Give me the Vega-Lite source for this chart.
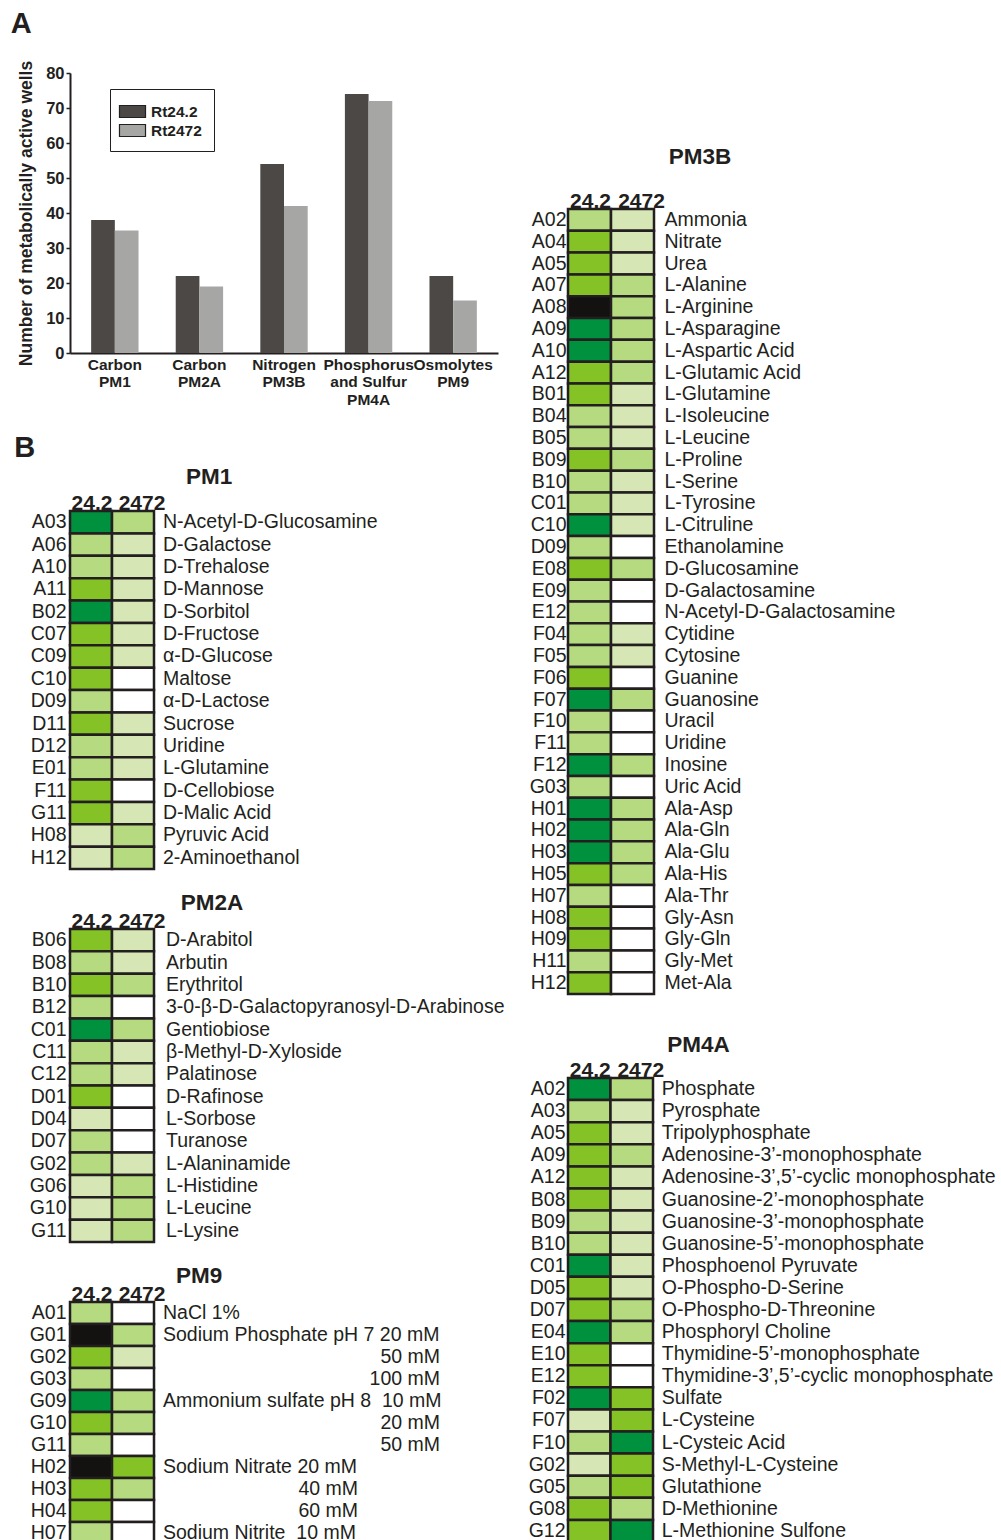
{
  "$schema": "https://vega.github.io/schema/vega-lite/v6.json",
  "background": "white",
  "padding": {"left": 10, "top": 10, "right": 0, "bottom": 0},
  "config": {
    "font": "Liberation Sans",
    "view": {"stroke": null},
    "axis": {"labelColor": "#231f20", "titleColor": "#231f20", "domainColor": "#231f20", "tickColor": "#231f20", "grid": false},
    "title": {"color": "#231f20"},
    "text": {"color": "#231f20"}
  },
  "datasets": {
    "bars": [
      {"medium": "Carbon|PM1", "strain": "Rt24.2", "wells": 38},
      {"medium": "Carbon|PM1", "strain": "Rt2472", "wells": 35},
      {"medium": "Carbon|PM2A", "strain": "Rt24.2", "wells": 22},
      {"medium": "Carbon|PM2A", "strain": "Rt2472", "wells": 19},
      {"medium": "Nitrogen|PM3B", "strain": "Rt24.2", "wells": 54},
      {"medium": "Nitrogen|PM3B", "strain": "Rt2472", "wells": 42},
      {"medium": "Phosphorus|and Sulfur|PM4A", "strain": "Rt24.2", "wells": 74},
      {"medium": "Phosphorus|and Sulfur|PM4A", "strain": "Rt2472", "wells": 72},
      {"medium": "Osmolytes|PM9", "strain": "Rt24.2", "wells": 22},
      {"medium": "Osmolytes|PM9", "strain": "Rt2472", "wells": 15}
    ],
    "wells": [
      {"plate": "PM1", "well": "A03", "name": "N-Acetyl-D-Glucosamine"},
      {"plate": "PM1", "well": "A06", "name": "D-Galactose"},
      {"plate": "PM1", "well": "A10", "name": "D-Trehalose"},
      {"plate": "PM1", "well": "A11", "name": "D-Mannose"},
      {"plate": "PM1", "well": "B02", "name": "D-Sorbitol"},
      {"plate": "PM1", "well": "C07", "name": "D-Fructose"},
      {"plate": "PM1", "well": "C09", "name": "α-D-Glucose"},
      {"plate": "PM1", "well": "C10", "name": "Maltose"},
      {"plate": "PM1", "well": "D09", "name": "α-D-Lactose"},
      {"plate": "PM1", "well": "D11", "name": "Sucrose"},
      {"plate": "PM1", "well": "D12", "name": "Uridine"},
      {"plate": "PM1", "well": "E01", "name": "L-Glutamine"},
      {"plate": "PM1", "well": "F11", "name": "D-Cellobiose"},
      {"plate": "PM1", "well": "G11", "name": "D-Malic Acid"},
      {"plate": "PM1", "well": "H08", "name": "Pyruvic Acid"},
      {"plate": "PM1", "well": "H12", "name": "2-Aminoethanol"},
      {"plate": "PM2A", "well": "B06", "name": "D-Arabitol"},
      {"plate": "PM2A", "well": "B08", "name": "Arbutin"},
      {"plate": "PM2A", "well": "B10", "name": "Erythritol"},
      {"plate": "PM2A", "well": "B12", "name": "3-0-β-D-Galactopyranosyl-D-Arabinose"},
      {"plate": "PM2A", "well": "C01", "name": "Gentiobiose"},
      {"plate": "PM2A", "well": "C11", "name": "β-Methyl-D-Xyloside"},
      {"plate": "PM2A", "well": "C12", "name": "Palatinose"},
      {"plate": "PM2A", "well": "D01", "name": "D-Rafinose"},
      {"plate": "PM2A", "well": "D04", "name": "L-Sorbose"},
      {"plate": "PM2A", "well": "D07", "name": "Turanose"},
      {"plate": "PM2A", "well": "G02", "name": "L-Alaninamide"},
      {"plate": "PM2A", "well": "G06", "name": "L-Histidine"},
      {"plate": "PM2A", "well": "G10", "name": "L-Leucine"},
      {"plate": "PM2A", "well": "G11", "name": "L-Lysine"},
      {"plate": "PM9", "well": "A01", "name": "NaCl 1%"},
      {"plate": "PM9", "well": "G01", "name": "Sodium Phosphate pH 7 20 mM"},
      {"plate": "PM9", "well": "G02", "name": "50 mM"},
      {"plate": "PM9", "well": "G03", "name": "100 mM"},
      {"plate": "PM9", "well": "G09", "name": "Ammonium sulfate pH 8\u00a0 10 mM"},
      {"plate": "PM9", "well": "G10", "name": "20 mM"},
      {"plate": "PM9", "well": "G11", "name": "50 mM"},
      {"plate": "PM9", "well": "H02", "name": "Sodium Nitrate 20 mM"},
      {"plate": "PM9", "well": "H03", "name": "40 mM"},
      {"plate": "PM9", "well": "H04", "name": "60 mM"},
      {"plate": "PM9", "well": "H07", "name": "Sodium Nitrite\u00a0 10 mM"},
      {"plate": "PM3B", "well": "A02", "name": "Ammonia"},
      {"plate": "PM3B", "well": "A04", "name": "Nitrate"},
      {"plate": "PM3B", "well": "A05", "name": "Urea"},
      {"plate": "PM3B", "well": "A07", "name": "L-Alanine"},
      {"plate": "PM3B", "well": "A08", "name": "L-Arginine"},
      {"plate": "PM3B", "well": "A09", "name": "L-Asparagine"},
      {"plate": "PM3B", "well": "A10", "name": "L-Aspartic Acid"},
      {"plate": "PM3B", "well": "A12", "name": "L-Glutamic Acid"},
      {"plate": "PM3B", "well": "B01", "name": "L-Glutamine"},
      {"plate": "PM3B", "well": "B04", "name": "L-Isoleucine"},
      {"plate": "PM3B", "well": "B05", "name": "L-Leucine"},
      {"plate": "PM3B", "well": "B09", "name": "L-Proline"},
      {"plate": "PM3B", "well": "B10", "name": "L-Serine"},
      {"plate": "PM3B", "well": "C01", "name": "L-Tyrosine"},
      {"plate": "PM3B", "well": "C10", "name": "L-Citruline"},
      {"plate": "PM3B", "well": "D09", "name": "Ethanolamine"},
      {"plate": "PM3B", "well": "E08", "name": "D-Glucosamine"},
      {"plate": "PM3B", "well": "E09", "name": "D-Galactosamine"},
      {"plate": "PM3B", "well": "E12", "name": "N-Acetyl-D-Galactosamine"},
      {"plate": "PM3B", "well": "F04", "name": "Cytidine"},
      {"plate": "PM3B", "well": "F05", "name": "Cytosine"},
      {"plate": "PM3B", "well": "F06", "name": "Guanine"},
      {"plate": "PM3B", "well": "F07", "name": "Guanosine"},
      {"plate": "PM3B", "well": "F10", "name": "Uracil"},
      {"plate": "PM3B", "well": "F11", "name": "Uridine"},
      {"plate": "PM3B", "well": "F12", "name": "Inosine"},
      {"plate": "PM3B", "well": "G03", "name": "Uric Acid"},
      {"plate": "PM3B", "well": "H01", "name": "Ala-Asp"},
      {"plate": "PM3B", "well": "H02", "name": "Ala-Gln"},
      {"plate": "PM3B", "well": "H03", "name": "Ala-Glu"},
      {"plate": "PM3B", "well": "H05", "name": "Ala-His"},
      {"plate": "PM3B", "well": "H07", "name": "Ala-Thr"},
      {"plate": "PM3B", "well": "H08", "name": "Gly-Asn"},
      {"plate": "PM3B", "well": "H09", "name": "Gly-Gln"},
      {"plate": "PM3B", "well": "H11", "name": "Gly-Met"},
      {"plate": "PM3B", "well": "H12", "name": "Met-Ala"},
      {"plate": "PM4A", "well": "A02", "name": "Phosphate"},
      {"plate": "PM4A", "well": "A03", "name": "Pyrosphate"},
      {"plate": "PM4A", "well": "A05", "name": "Tripolyphosphate"},
      {"plate": "PM4A", "well": "A09", "name": "Adenosine-3’-monophosphate"},
      {"plate": "PM4A", "well": "A12", "name": "Adenosine-3’,5’-cyclic monophosphate"},
      {"plate": "PM4A", "well": "B08", "name": "Guanosine-2’-monophosphate"},
      {"plate": "PM4A", "well": "B09", "name": "Guanosine-3’-monophosphate"},
      {"plate": "PM4A", "well": "B10", "name": "Guanosine-5’-monophosphate"},
      {"plate": "PM4A", "well": "C01", "name": "Phosphoenol Pyruvate"},
      {"plate": "PM4A", "well": "D05", "name": "O-Phospho-D-Serine"},
      {"plate": "PM4A", "well": "D07", "name": "O-Phospho-D-Threonine"},
      {"plate": "PM4A", "well": "E04", "name": "Phosphoryl Choline"},
      {"plate": "PM4A", "well": "E10", "name": "Thymidine-5’-monophosphate"},
      {"plate": "PM4A", "well": "E12", "name": "Thymidine-3’,5’-cyclic monophosphate"},
      {"plate": "PM4A", "well": "F02", "name": "Sulfate"},
      {"plate": "PM4A", "well": "F07", "name": "L-Cysteine"},
      {"plate": "PM4A", "well": "F10", "name": "L-Cysteic Acid"},
      {"plate": "PM4A", "well": "G02", "name": "S-Methyl-L-Cysteine"},
      {"plate": "PM4A", "well": "G05", "name": "Glutathione"},
      {"plate": "PM4A", "well": "G08", "name": "D-Methionine"},
      {"plate": "PM4A", "well": "G12", "name": "L-Methionine Sulfone"}
    ],
    "cells": [
      {"plate": "PM1", "well": "A03", "strain": "24.2", "level": 4}, {"plate": "PM1", "well": "A03", "strain": "2472", "level": 2},
      {"plate": "PM1", "well": "A06", "strain": "24.2", "level": 2}, {"plate": "PM1", "well": "A06", "strain": "2472", "level": 1},
      {"plate": "PM1", "well": "A10", "strain": "24.2", "level": 2}, {"plate": "PM1", "well": "A10", "strain": "2472", "level": 1},
      {"plate": "PM1", "well": "A11", "strain": "24.2", "level": 3}, {"plate": "PM1", "well": "A11", "strain": "2472", "level": 1},
      {"plate": "PM1", "well": "B02", "strain": "24.2", "level": 4}, {"plate": "PM1", "well": "B02", "strain": "2472", "level": 1},
      {"plate": "PM1", "well": "C07", "strain": "24.2", "level": 3}, {"plate": "PM1", "well": "C07", "strain": "2472", "level": 1},
      {"plate": "PM1", "well": "C09", "strain": "24.2", "level": 3}, {"plate": "PM1", "well": "C09", "strain": "2472", "level": 1},
      {"plate": "PM1", "well": "C10", "strain": "24.2", "level": 3}, {"plate": "PM1", "well": "C10", "strain": "2472", "level": 0},
      {"plate": "PM1", "well": "D09", "strain": "24.2", "level": 2}, {"plate": "PM1", "well": "D09", "strain": "2472", "level": 0},
      {"plate": "PM1", "well": "D11", "strain": "24.2", "level": 3}, {"plate": "PM1", "well": "D11", "strain": "2472", "level": 1},
      {"plate": "PM1", "well": "D12", "strain": "24.2", "level": 2}, {"plate": "PM1", "well": "D12", "strain": "2472", "level": 1},
      {"plate": "PM1", "well": "E01", "strain": "24.2", "level": 2}, {"plate": "PM1", "well": "E01", "strain": "2472", "level": 1},
      {"plate": "PM1", "well": "F11", "strain": "24.2", "level": 3}, {"plate": "PM1", "well": "F11", "strain": "2472", "level": 0},
      {"plate": "PM1", "well": "G11", "strain": "24.2", "level": 3}, {"plate": "PM1", "well": "G11", "strain": "2472", "level": 1},
      {"plate": "PM1", "well": "H08", "strain": "24.2", "level": 1}, {"plate": "PM1", "well": "H08", "strain": "2472", "level": 2},
      {"plate": "PM1", "well": "H12", "strain": "24.2", "level": 1}, {"plate": "PM1", "well": "H12", "strain": "2472", "level": 2},
      {"plate": "PM2A", "well": "B06", "strain": "24.2", "level": 3}, {"plate": "PM2A", "well": "B06", "strain": "2472", "level": 1},
      {"plate": "PM2A", "well": "B08", "strain": "24.2", "level": 2}, {"plate": "PM2A", "well": "B08", "strain": "2472", "level": 1},
      {"plate": "PM2A", "well": "B10", "strain": "24.2", "level": 3}, {"plate": "PM2A", "well": "B10", "strain": "2472", "level": 2},
      {"plate": "PM2A", "well": "B12", "strain": "24.2", "level": 2}, {"plate": "PM2A", "well": "B12", "strain": "2472", "level": 0},
      {"plate": "PM2A", "well": "C01", "strain": "24.2", "level": 4}, {"plate": "PM2A", "well": "C01", "strain": "2472", "level": 2},
      {"plate": "PM2A", "well": "C11", "strain": "24.2", "level": 2}, {"plate": "PM2A", "well": "C11", "strain": "2472", "level": 1},
      {"plate": "PM2A", "well": "C12", "strain": "24.2", "level": 2}, {"plate": "PM2A", "well": "C12", "strain": "2472", "level": 1},
      {"plate": "PM2A", "well": "D01", "strain": "24.2", "level": 3}, {"plate": "PM2A", "well": "D01", "strain": "2472", "level": 0},
      {"plate": "PM2A", "well": "D04", "strain": "24.2", "level": 1}, {"plate": "PM2A", "well": "D04", "strain": "2472", "level": 0},
      {"plate": "PM2A", "well": "D07", "strain": "24.2", "level": 2}, {"plate": "PM2A", "well": "D07", "strain": "2472", "level": 0},
      {"plate": "PM2A", "well": "G02", "strain": "24.2", "level": 2}, {"plate": "PM2A", "well": "G02", "strain": "2472", "level": 1},
      {"plate": "PM2A", "well": "G06", "strain": "24.2", "level": 1}, {"plate": "PM2A", "well": "G06", "strain": "2472", "level": 2},
      {"plate": "PM2A", "well": "G10", "strain": "24.2", "level": 1}, {"plate": "PM2A", "well": "G10", "strain": "2472", "level": 2},
      {"plate": "PM2A", "well": "G11", "strain": "24.2", "level": 1}, {"plate": "PM2A", "well": "G11", "strain": "2472", "level": 2},
      {"plate": "PM9", "well": "A01", "strain": "24.2", "level": 2}, {"plate": "PM9", "well": "A01", "strain": "2472", "level": 0},
      {"plate": "PM9", "well": "G01", "strain": "24.2", "level": 5}, {"plate": "PM9", "well": "G01", "strain": "2472", "level": 2},
      {"plate": "PM9", "well": "G02", "strain": "24.2", "level": 3}, {"plate": "PM9", "well": "G02", "strain": "2472", "level": 1},
      {"plate": "PM9", "well": "G03", "strain": "24.2", "level": 2}, {"plate": "PM9", "well": "G03", "strain": "2472", "level": 0},
      {"plate": "PM9", "well": "G09", "strain": "24.2", "level": 4}, {"plate": "PM9", "well": "G09", "strain": "2472", "level": 2},
      {"plate": "PM9", "well": "G10", "strain": "24.2", "level": 3}, {"plate": "PM9", "well": "G10", "strain": "2472", "level": 2},
      {"plate": "PM9", "well": "G11", "strain": "24.2", "level": 2}, {"plate": "PM9", "well": "G11", "strain": "2472", "level": 0},
      {"plate": "PM9", "well": "H02", "strain": "24.2", "level": 5}, {"plate": "PM9", "well": "H02", "strain": "2472", "level": 3},
      {"plate": "PM9", "well": "H03", "strain": "24.2", "level": 3}, {"plate": "PM9", "well": "H03", "strain": "2472", "level": 2},
      {"plate": "PM9", "well": "H04", "strain": "24.2", "level": 3}, {"plate": "PM9", "well": "H04", "strain": "2472", "level": 0},
      {"plate": "PM9", "well": "H07", "strain": "24.2", "level": 2}, {"plate": "PM9", "well": "H07", "strain": "2472", "level": 0},
      {"plate": "PM3B", "well": "A02", "strain": "24.2", "level": 2}, {"plate": "PM3B", "well": "A02", "strain": "2472", "level": 1},
      {"plate": "PM3B", "well": "A04", "strain": "24.2", "level": 3}, {"plate": "PM3B", "well": "A04", "strain": "2472", "level": 1},
      {"plate": "PM3B", "well": "A05", "strain": "24.2", "level": 3}, {"plate": "PM3B", "well": "A05", "strain": "2472", "level": 1},
      {"plate": "PM3B", "well": "A07", "strain": "24.2", "level": 3}, {"plate": "PM3B", "well": "A07", "strain": "2472", "level": 2},
      {"plate": "PM3B", "well": "A08", "strain": "24.2", "level": 5}, {"plate": "PM3B", "well": "A08", "strain": "2472", "level": 2},
      {"plate": "PM3B", "well": "A09", "strain": "24.2", "level": 4}, {"plate": "PM3B", "well": "A09", "strain": "2472", "level": 2},
      {"plate": "PM3B", "well": "A10", "strain": "24.2", "level": 4}, {"plate": "PM3B", "well": "A10", "strain": "2472", "level": 2},
      {"plate": "PM3B", "well": "A12", "strain": "24.2", "level": 3}, {"plate": "PM3B", "well": "A12", "strain": "2472", "level": 2},
      {"plate": "PM3B", "well": "B01", "strain": "24.2", "level": 3}, {"plate": "PM3B", "well": "B01", "strain": "2472", "level": 1},
      {"plate": "PM3B", "well": "B04", "strain": "24.2", "level": 2}, {"plate": "PM3B", "well": "B04", "strain": "2472", "level": 1},
      {"plate": "PM3B", "well": "B05", "strain": "24.2", "level": 2}, {"plate": "PM3B", "well": "B05", "strain": "2472", "level": 1},
      {"plate": "PM3B", "well": "B09", "strain": "24.2", "level": 3}, {"plate": "PM3B", "well": "B09", "strain": "2472", "level": 2},
      {"plate": "PM3B", "well": "B10", "strain": "24.2", "level": 2}, {"plate": "PM3B", "well": "B10", "strain": "2472", "level": 1},
      {"plate": "PM3B", "well": "C01", "strain": "24.2", "level": 2}, {"plate": "PM3B", "well": "C01", "strain": "2472", "level": 1},
      {"plate": "PM3B", "well": "C10", "strain": "24.2", "level": 4}, {"plate": "PM3B", "well": "C10", "strain": "2472", "level": 1},
      {"plate": "PM3B", "well": "D09", "strain": "24.2", "level": 2}, {"plate": "PM3B", "well": "D09", "strain": "2472", "level": 0},
      {"plate": "PM3B", "well": "E08", "strain": "24.2", "level": 3}, {"plate": "PM3B", "well": "E08", "strain": "2472", "level": 2},
      {"plate": "PM3B", "well": "E09", "strain": "24.2", "level": 2}, {"plate": "PM3B", "well": "E09", "strain": "2472", "level": 0},
      {"plate": "PM3B", "well": "E12", "strain": "24.2", "level": 2}, {"plate": "PM3B", "well": "E12", "strain": "2472", "level": 0},
      {"plate": "PM3B", "well": "F04", "strain": "24.2", "level": 2}, {"plate": "PM3B", "well": "F04", "strain": "2472", "level": 1},
      {"plate": "PM3B", "well": "F05", "strain": "24.2", "level": 2}, {"plate": "PM3B", "well": "F05", "strain": "2472", "level": 1},
      {"plate": "PM3B", "well": "F06", "strain": "24.2", "level": 3}, {"plate": "PM3B", "well": "F06", "strain": "2472", "level": 0},
      {"plate": "PM3B", "well": "F07", "strain": "24.2", "level": 4}, {"plate": "PM3B", "well": "F07", "strain": "2472", "level": 2},
      {"plate": "PM3B", "well": "F10", "strain": "24.2", "level": 2}, {"plate": "PM3B", "well": "F10", "strain": "2472", "level": 0},
      {"plate": "PM3B", "well": "F11", "strain": "24.2", "level": 2}, {"plate": "PM3B", "well": "F11", "strain": "2472", "level": 0},
      {"plate": "PM3B", "well": "F12", "strain": "24.2", "level": 4}, {"plate": "PM3B", "well": "F12", "strain": "2472", "level": 2},
      {"plate": "PM3B", "well": "G03", "strain": "24.2", "level": 2}, {"plate": "PM3B", "well": "G03", "strain": "2472", "level": 0},
      {"plate": "PM3B", "well": "H01", "strain": "24.2", "level": 4}, {"plate": "PM3B", "well": "H01", "strain": "2472", "level": 2},
      {"plate": "PM3B", "well": "H02", "strain": "24.2", "level": 4}, {"plate": "PM3B", "well": "H02", "strain": "2472", "level": 2},
      {"plate": "PM3B", "well": "H03", "strain": "24.2", "level": 4}, {"plate": "PM3B", "well": "H03", "strain": "2472", "level": 2},
      {"plate": "PM3B", "well": "H05", "strain": "24.2", "level": 3}, {"plate": "PM3B", "well": "H05", "strain": "2472", "level": 2},
      {"plate": "PM3B", "well": "H07", "strain": "24.2", "level": 2}, {"plate": "PM3B", "well": "H07", "strain": "2472", "level": 0},
      {"plate": "PM3B", "well": "H08", "strain": "24.2", "level": 3}, {"plate": "PM3B", "well": "H08", "strain": "2472", "level": 0},
      {"plate": "PM3B", "well": "H09", "strain": "24.2", "level": 3}, {"plate": "PM3B", "well": "H09", "strain": "2472", "level": 0},
      {"plate": "PM3B", "well": "H11", "strain": "24.2", "level": 2}, {"plate": "PM3B", "well": "H11", "strain": "2472", "level": 0},
      {"plate": "PM3B", "well": "H12", "strain": "24.2", "level": 3}, {"plate": "PM3B", "well": "H12", "strain": "2472", "level": 0},
      {"plate": "PM4A", "well": "A02", "strain": "24.2", "level": 4}, {"plate": "PM4A", "well": "A02", "strain": "2472", "level": 2},
      {"plate": "PM4A", "well": "A03", "strain": "24.2", "level": 2}, {"plate": "PM4A", "well": "A03", "strain": "2472", "level": 1},
      {"plate": "PM4A", "well": "A05", "strain": "24.2", "level": 3}, {"plate": "PM4A", "well": "A05", "strain": "2472", "level": 1},
      {"plate": "PM4A", "well": "A09", "strain": "24.2", "level": 3}, {"plate": "PM4A", "well": "A09", "strain": "2472", "level": 2},
      {"plate": "PM4A", "well": "A12", "strain": "24.2", "level": 3}, {"plate": "PM4A", "well": "A12", "strain": "2472", "level": 1},
      {"plate": "PM4A", "well": "B08", "strain": "24.2", "level": 3}, {"plate": "PM4A", "well": "B08", "strain": "2472", "level": 1},
      {"plate": "PM4A", "well": "B09", "strain": "24.2", "level": 2}, {"plate": "PM4A", "well": "B09", "strain": "2472", "level": 1},
      {"plate": "PM4A", "well": "B10", "strain": "24.2", "level": 2}, {"plate": "PM4A", "well": "B10", "strain": "2472", "level": 1},
      {"plate": "PM4A", "well": "C01", "strain": "24.2", "level": 4}, {"plate": "PM4A", "well": "C01", "strain": "2472", "level": 1},
      {"plate": "PM4A", "well": "D05", "strain": "24.2", "level": 3}, {"plate": "PM4A", "well": "D05", "strain": "2472", "level": 1},
      {"plate": "PM4A", "well": "D07", "strain": "24.2", "level": 3}, {"plate": "PM4A", "well": "D07", "strain": "2472", "level": 2},
      {"plate": "PM4A", "well": "E04", "strain": "24.2", "level": 4}, {"plate": "PM4A", "well": "E04", "strain": "2472", "level": 2},
      {"plate": "PM4A", "well": "E10", "strain": "24.2", "level": 3}, {"plate": "PM4A", "well": "E10", "strain": "2472", "level": 0},
      {"plate": "PM4A", "well": "E12", "strain": "24.2", "level": 3}, {"plate": "PM4A", "well": "E12", "strain": "2472", "level": 0},
      {"plate": "PM4A", "well": "F02", "strain": "24.2", "level": 4}, {"plate": "PM4A", "well": "F02", "strain": "2472", "level": 3},
      {"plate": "PM4A", "well": "F07", "strain": "24.2", "level": 1}, {"plate": "PM4A", "well": "F07", "strain": "2472", "level": 3},
      {"plate": "PM4A", "well": "F10", "strain": "24.2", "level": 2}, {"plate": "PM4A", "well": "F10", "strain": "2472", "level": 4},
      {"plate": "PM4A", "well": "G02", "strain": "24.2", "level": 1}, {"plate": "PM4A", "well": "G02", "strain": "2472", "level": 3},
      {"plate": "PM4A", "well": "G05", "strain": "24.2", "level": 2}, {"plate": "PM4A", "well": "G05", "strain": "2472", "level": 3},
      {"plate": "PM4A", "well": "G08", "strain": "24.2", "level": 3}, {"plate": "PM4A", "well": "G08", "strain": "2472", "level": 2},
      {"plate": "PM4A", "well": "G12", "strain": "24.2", "level": 3}, {"plate": "PM4A", "well": "G12", "strain": "2472", "level": 4}
    ]
  },
  "spacing": 23,
  "hconcat": [
    {
      "spacing": 25,
      "vconcat": [
        {
          "title": {"text": "A", "anchor": "start", "frame": "bounds", "fontSize": 29, "fontWeight": "bold", "offset": 21, "dx": -7},
          "width": 428,
          "height": 280,
          "data": {"name": "bars"},
          "mark": {"type": "bar"},
          "encoding": {
            "x": {
              "field": "medium", "type": "nominal", "sort": null,
              "scale": {"paddingInner": 0.44, "paddingOuter": 0.25},
              "axis": {"title": null, "labelAngle": 0, "labelExpr": "split(datum.label, '|')", "labelFontSize": 15.5, "labelFontWeight": "bold", "labelLineHeight": 17.5, "labelPadding": 4, "ticks": false, "domainWidth": 2}
            },
            "xOffset": {"field": "strain", "type": "nominal", "sort": ["Rt24.2", "Rt2472"]},
            "y": {
              "field": "wells", "type": "quantitative",
              "scale": {"domain": [0, 80]},
              "axis": {"title": "Number of metabolically active wells", "titleFontSize": 17.5, "titleFontWeight": "bold", "titlePadding": 10, "values": [0, 10, 20, 30, 40, 50, 60, 70, 80], "labelFontSize": 16.5, "labelFontWeight": "bold", "tickSize": 4, "tickWidth": 1.5, "labelPadding": 2, "domainWidth": 2}
            },
            "color": {
              "field": "strain", "type": "nominal",
              "scale": {"domain": ["Rt24.2", "Rt2472"], "range": ["#4c4845", "#a6a6a5"]},
              "legend": {"title": null, "orient": "none", "legendX": 40, "legendY": 16, "strokeColor": "#231f20", "padding": 12, "symbolType": "M-1.37,-0.63H1.37V0.63H-1.37Z", "symbolSize": 361, "symbolStrokeColor": "#231f20", "symbolStrokeWidth": 1.2, "symbolOpacity": 1, "labelFontSize": 15.5, "labelFontWeight": "bold", "labelColor": "#231f20", "labelOffset": 8, "rowPadding": 0}
            }
          }
        },
        {
          "title": {"text": "B", "anchor": "start", "frame": "bounds", "fontSize": 29, "fontWeight": "bold", "offset": 3, "dx": -15},
          "spacing": 20,
          "vconcat": [
            {
              "title": {"text": "PM1", "dx": 97, "offset": 4, "fontSize": 22.5, "fontWeight": "bold"},
              "width": 84, "height": 358,
              "layer": [
                {
                  "data": {"name": "cells"},
                  "transform": [{"filter": "datum.plate == 'PM1'"}],
                  "mark": {"type": "rect", "stroke": "#231f20", "strokeWidth": 2.5},
                  "encoding": {
                    "x": {"field": "strain", "type": "nominal", "sort": ["24.2", "2472"], "scale": {"paddingInner": 0, "paddingOuter": 0}, "axis": {"orient": "top", "title": null, "labelAngle": 0, "ticks": false, "tickSize": 0, "domain": false, "labelFontSize": 21, "labelFontWeight": "bold", "labelPadding": 2, "labelBaseline": "alphabetic", "labelOffset": {"condition": {"test": "datum.value == '2472'", "value": 9}, "value": 1}}},
                    "y": {"field": "well", "type": "nominal", "scale": {"paddingInner": 0, "paddingOuter": 0}, "axis": {"title": null, "ticks": false, "tickSize": 0, "domain": false, "labelFontSize": 19.5, "labelPadding": 4}},
                    "fill": {"field": "level", "type": "ordinal", "scale": {"domain": [0, 1, 2, 3, 4, 5], "range": ["#ffffff", "#d6e6b5", "#b6da80", "#85c226", "#00913f", "#141111"]}, "legend": null}
                  }
                },
                {
                  "data": {"name": "wells"},
                  "transform": [{"filter": "datum.plate == 'PM1'"}],
                  "mark": {"type": "text", "align": "left", "baseline": "middle", "dx": 30, "fontSize": 19.5},
                  "encoding": {"x": {"datum": "2472", "type": "nominal"}, "y": {"field": "well", "type": "nominal"}, "text": {"field": "name"}}
                }
              ]
            },
            {
              "title": {"text": "PM2A", "dx": 100, "offset": -4, "fontSize": 22.5, "fontWeight": "bold"},
              "width": 84, "height": 313,
              "layer": [
                {
                  "data": {"name": "cells"},
                  "transform": [{"filter": "datum.plate == 'PM2A'"}],
                  "mark": {"type": "rect", "stroke": "#231f20", "strokeWidth": 2.5},
                  "encoding": {
                    "x": {"field": "strain", "type": "nominal", "sort": ["24.2", "2472"], "scale": {"paddingInner": 0, "paddingOuter": 0}, "axis": {"orient": "top", "title": null, "labelAngle": 0, "ticks": false, "tickSize": 0, "domain": false, "labelFontSize": 21, "labelFontWeight": "bold", "labelPadding": 2, "labelBaseline": "alphabetic", "labelOffset": {"condition": {"test": "datum.value == '2472'", "value": 9}, "value": 1}}},
                    "y": {"field": "well", "type": "nominal", "scale": {"paddingInner": 0, "paddingOuter": 0}, "axis": {"title": null, "ticks": false, "tickSize": 0, "domain": false, "labelFontSize": 19.5, "labelPadding": 4}},
                    "fill": {"field": "level", "type": "ordinal", "scale": {"domain": [0, 1, 2, 3, 4, 5], "range": ["#ffffff", "#d6e6b5", "#b6da80", "#85c226", "#00913f", "#141111"]}, "legend": null}
                  }
                },
                {
                  "data": {"name": "wells"},
                  "transform": [{"filter": "datum.plate == 'PM2A'"}],
                  "mark": {"type": "text", "align": "left", "baseline": "middle", "dx": 33, "fontSize": 19.5},
                  "encoding": {"x": {"datum": "2472", "type": "nominal"}, "y": {"field": "well", "type": "nominal"}, "text": {"field": "name"}}
                }
              ]
            },
            {
              "title": {"text": "PM9", "dx": 87, "offset": -4, "fontSize": 22.5, "fontWeight": "bold"},
              "width": 84, "height": 242,
              "layer": [
                {
                  "data": {"name": "cells"},
                  "transform": [{"filter": "datum.plate == 'PM9'"}],
                  "mark": {"type": "rect", "stroke": "#231f20", "strokeWidth": 2.5},
                  "encoding": {
                    "x": {"field": "strain", "type": "nominal", "sort": ["24.2", "2472"], "scale": {"paddingInner": 0, "paddingOuter": 0}, "axis": {"orient": "top", "title": null, "labelAngle": 0, "ticks": false, "tickSize": 0, "domain": false, "labelFontSize": 21, "labelFontWeight": "bold", "labelPadding": 2, "labelBaseline": "alphabetic", "labelOffset": {"condition": {"test": "datum.value == '2472'", "value": 9}, "value": 1}}},
                    "y": {"field": "well", "type": "nominal", "scale": {"paddingInner": 0, "paddingOuter": 0}, "axis": {"title": null, "ticks": false, "tickSize": 0, "domain": false, "labelFontSize": 19.5, "labelPadding": 4}},
                    "fill": {"field": "level", "type": "ordinal", "scale": {"domain": [0, 1, 2, 3, 4, 5], "range": ["#ffffff", "#d6e6b5", "#b6da80", "#85c226", "#00913f", "#141111"]}, "legend": null}
                  }
                },
                {
                  "data": {"name": "wells"},
                  "transform": [{"filter": "datum.plate == 'PM9' && indexof('0123456789', substring(datum.name, 0, 1)) < 0"}],
                  "mark": {"type": "text", "align": "left", "baseline": "middle", "dx": 30, "fontSize": 19.5},
                  "encoding": {"x": {"datum": "2472", "type": "nominal"}, "y": {"field": "well", "type": "nominal"}, "text": {"field": "name"}}
                },
                {
                  "data": {"name": "wells"},
                  "transform": [{"filter": "datum.plate == 'PM9' && indexof('0123456789', substring(datum.name, 0, 1)) >= 0 && datum.well < 'H'"}],
                  "mark": {"type": "text", "align": "right", "baseline": "middle", "dx": 307, "fontSize": 19.5},
                  "encoding": {"x": {"datum": "2472", "type": "nominal"}, "y": {"field": "well", "type": "nominal"}, "text": {"field": "name"}}
                },
                {
                  "data": {"name": "wells"},
                  "transform": [{"filter": "datum.plate == 'PM9' && indexof('0123456789', substring(datum.name, 0, 1)) >= 0 && datum.well > 'H'"}],
                  "mark": {"type": "text", "align": "right", "baseline": "middle", "dx": 225, "fontSize": 19.5},
                  "encoding": {"x": {"datum": "2472", "type": "nominal"}, "y": {"field": "well", "type": "nominal"}, "text": {"field": "name"}}
                }
              ]
            }
          ]
        }
      ]
    },
    {
      "spacing": 37,
      "vconcat": [
        {"width": 1, "height": 35, "data": {"values": [{}]}, "mark": {"type": "point", "opacity": 0}},
        {
          "title": {"text": "PM3B", "dx": 89, "offset": 22, "fontSize": 22.5, "fontWeight": "bold"},
          "width": 86, "height": 785,
          "layer": [
            {
              "data": {"name": "cells"},
              "transform": [{"filter": "datum.plate == 'PM3B'"}],
              "mark": {"type": "rect", "stroke": "#231f20", "strokeWidth": 2.5},
              "encoding": {
                "x": {"field": "strain", "type": "nominal", "sort": ["24.2", "2472"], "scale": {"paddingInner": 0, "paddingOuter": 0}, "axis": {"orient": "top", "title": null, "labelAngle": 0, "ticks": false, "tickSize": 0, "domain": false, "labelFontSize": 21, "labelFontWeight": "bold", "labelPadding": 2, "labelBaseline": "alphabetic", "labelOffset": {"condition": {"test": "datum.value == '2472'", "value": 9}, "value": 1}}},
                "y": {"field": "well", "type": "nominal", "scale": {"paddingInner": 0, "paddingOuter": 0}, "axis": {"title": null, "ticks": false, "tickSize": 0, "domain": false, "labelFontSize": 19.5, "labelPadding": 2}},
                "fill": {"field": "level", "type": "ordinal", "scale": {"domain": [0, 1, 2, 3, 4, 5], "range": ["#ffffff", "#d6e6b5", "#b6da80", "#85c226", "#00913f", "#141111"]}, "legend": null}
              }
            },
            {
              "data": {"name": "wells"},
              "transform": [{"filter": "datum.plate == 'PM3B'"}],
              "mark": {"type": "text", "align": "left", "baseline": "middle", "dx": 32, "fontSize": 19.5},
              "encoding": {"x": {"datum": "2472", "type": "nominal"}, "y": {"field": "well", "type": "nominal"}, "text": {"field": "name"}}
            }
          ]
        },
        {
          "title": {"text": "PM4A", "dx": 88, "offset": 3, "fontSize": 22.5, "fontWeight": "bold"},
          "width": 85, "height": 464,
          "layer": [
            {
              "data": {"name": "cells"},
              "transform": [{"filter": "datum.plate == 'PM4A'"}],
              "mark": {"type": "rect", "stroke": "#231f20", "strokeWidth": 2.5},
              "encoding": {
                "x": {"field": "strain", "type": "nominal", "sort": ["24.2", "2472"], "scale": {"paddingInner": 0, "paddingOuter": 0}, "axis": {"orient": "top", "title": null, "labelAngle": 0, "ticks": false, "tickSize": 0, "domain": false, "labelFontSize": 21, "labelFontWeight": "bold", "labelPadding": 2, "labelBaseline": "alphabetic", "labelOffset": {"condition": {"test": "datum.value == '2472'", "value": 9}, "value": 1}}},
                "y": {"field": "well", "type": "nominal", "scale": {"paddingInner": 0, "paddingOuter": 0}, "axis": {"title": null, "ticks": false, "tickSize": 0, "domain": false, "labelFontSize": 19.5, "labelPadding": 3}},
                "fill": {"field": "level", "type": "ordinal", "scale": {"domain": [0, 1, 2, 3, 4, 5], "range": ["#ffffff", "#d6e6b5", "#b6da80", "#85c226", "#00913f", "#141111"]}, "legend": null}
              }
            },
            {
              "data": {"name": "wells"},
              "transform": [{"filter": "datum.plate == 'PM4A'"}],
              "mark": {"type": "text", "align": "left", "baseline": "middle", "dx": 30, "fontSize": 19.5},
              "encoding": {"x": {"datum": "2472", "type": "nominal"}, "y": {"field": "well", "type": "nominal"}, "text": {"field": "name"}}
            }
          ]
        }
      ]
    }
  ],
  "resolve": {"scale": {"color": "independent", "fill": "independent"}}
}
